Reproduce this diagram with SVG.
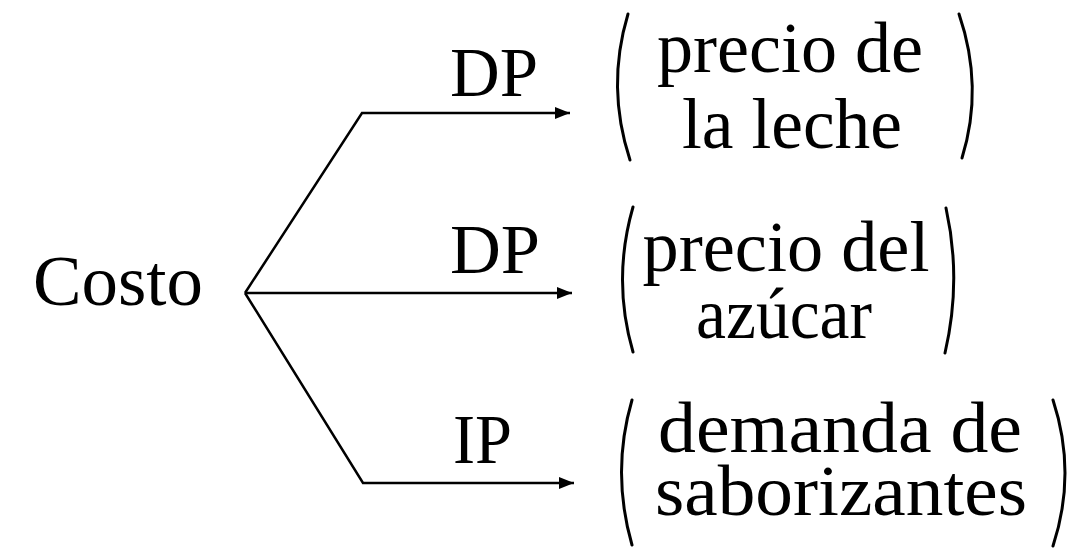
<svg xmlns="http://www.w3.org/2000/svg" width="1072" height="548" viewBox="0 0 1072 548">
<style>
text{font-family:"Liberation Serif","Times New Roman",serif;fill:#000;}
.lbl{font-size:70px;}
.t{font-size:72px;text-anchor:middle;}
.conn{fill:none;stroke:#000;stroke-width:2.5;stroke-linejoin:miter;}
.par{fill:none;stroke:#000;stroke-width:3;stroke-linecap:round;}
</style>
<defs>
<marker id="ah" markerUnits="userSpaceOnUse" markerWidth="16" markerHeight="14" refX="15" refY="7" orient="auto">
<path d="M0,1 L15,7 L0,13 z" fill="#000"/>
</marker>
</defs>
<rect width="1072" height="548" fill="#fff"/>
<g id="costo"><text class="lbl" x="33" y="305" textLength="170" lengthAdjust="spacingAndGlyphs" style="font-size:72px">Costo</text></g>
<g id="connectors">
<path class="conn" d="M245,293 L362,113 L570,113" marker-end="url(#ah)"/>
<path class="conn" d="M245,293 L572,293" marker-end="url(#ah)"/>
<path class="conn" d="M245,293 L363,483 L574,483" marker-end="url(#ah)"/>
<text class="lbl" x="450" y="96" textLength="88" lengthAdjust="spacingAndGlyphs">DP</text>
<text class="lbl" x="450" y="273" textLength="90" lengthAdjust="spacingAndGlyphs">DP</text>
<text class="lbl" x="453" y="463" textLength="59" lengthAdjust="spacingAndGlyphs">IP</text>
</g>
<g id="leche">
<path class="par" d="M628,14 Q606,87 630,160"/>
<path class="par" d="M959,14 Q984,87 962,158"/>
<text class="t" x="790" y="72" textLength="266" lengthAdjust="spacingAndGlyphs">precio de</text>
<text class="t" x="792" y="148" textLength="220" lengthAdjust="spacingAndGlyphs">la leche</text>
</g>
<g id="azucar">
<path class="par" d="M633,207 Q612,280 633,352"/>
<path class="par" d="M946,208 Q962,280 945,353"/>
<text class="t" x="786" y="271" textLength="287" lengthAdjust="spacingAndGlyphs">precio del</text>
<text class="t" x="784" y="338" textLength="176" lengthAdjust="spacingAndGlyphs">azúcar</text>
</g>
<g id="saborizantes">
<path class="par" d="M632,400 Q611,472 632,545"/>
<path class="par" d="M1053,400 Q1077,473 1053,546"/>
<text class="t" x="840" y="452" textLength="364" lengthAdjust="spacingAndGlyphs">demanda de</text>
<text class="t" x="841" y="515" textLength="372" lengthAdjust="spacingAndGlyphs">saborizantes</text>
</g>
</svg>
